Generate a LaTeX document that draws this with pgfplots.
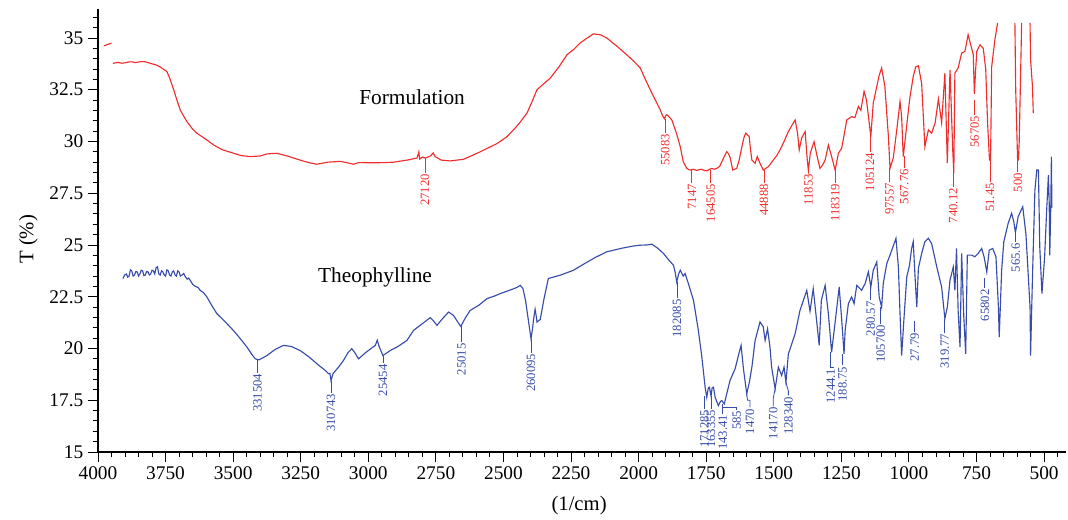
\documentclass[border=0pt]{standalone}
\usepackage{pgfplots}
\pgfplotsset{compat=1.18}
\usepackage{fontspec}
\setmainfont{Liberation Serif}
\definecolor{specred}{RGB}{240,45,45}
\definecolor{specblue}{RGB}{55,75,168}
\newcommand{\pk}[5]{\draw[#1, line width=0.6pt] (axis cs:#2,#3) -- (axis cs:#2,#4) node[anchor=east, rotate=90, inner sep=0.6pt, font=\fontsize{9.5}{10}\selectfont, text=#1] {#5};}
\begin{document}
\begin{tikzpicture}
\path[use as bounding box] (-73.5pt,-50.25pt) rectangle (727.5pt,339pt);
\begin{axis}[
 at={(0,0)}, anchor=south west,
 scale only axis, width=726pt, height=332.25pt,
 x dir=reverse, xmin=419, xmax=4000, ymin=15, ymax=36.4,
 axis x line*=bottom, axis y line*=left,
 axis line style={line width=0.8pt},
 xtick={500,750,1000,1250,1500,1750,2000,2250,2500,2750,3000,3250,3500,3750,4000},
 minor xtick={450,500,...,4000},
 ytick={15,17.5,20,22.5,25,27.5,30,32.5,35},
 minor ytick={15,15.5,...,36},
 tick align=outside, major tick length=7.5pt, minor tick length=4pt,
 tick style={black, line width=0.7pt},
 scaled ticks=false,
 /pgf/number format/1000 sep={},
 /pgf/number format/assume math mode=true,
 ticklabel style={font=\fontsize{14.5}{16}\selectfont},
 xlabel={(1/cm)}, ylabel={T (\%)},
 every axis x label/.style={at={(axis description cs:0.497,-0.12)}, anchor=center, font=\fontsize{15.5}{17}\selectfont},
 every axis y label/.style={at={(axis description cs:-0.072,0.48)}, rotate=90, anchor=center, font=\fontsize{15.5}{17}\selectfont},
 clip=false,
]
% Formulation (red)
\addplot[specred, line width=0.85pt] coordinates {(3977,34.62) (3962,34.7) (3950,34.75)};
\addplot[specred, line width=0.85pt] coordinates {
(3945,33.77) (3935,33.8) (3925,33.82) (3912,33.78) (3900,33.8) (3887,33.84) (3875,33.85) (3862,33.81) (3850,33.84) (3837,33.86) (3825,33.85) (3812,33.8) (3800,33.75) (3785,33.7) (3770,33.6) (3745,33.38) (3733,33.0) (3720,32.5) (3708,32.0) (3695,31.5) (3671,30.96) (3650,30.6) (3634,30.4) (3600,30.1) (3572,29.83) (3540,29.6) (3498,29.43) (3470,29.32) (3437,29.27) (3400,29.3) (3375,29.4) (3338,29.43) (3300,29.3) (3252,29.1) (3220,28.98) (3190,28.9) (3150,29.0) (3104,29.04) (3080,28.98) (3055,28.9) (3036,28.98) (2981,28.97) (2940,28.98) (2907,29.0) (2857,29.1) (2820,29.2) (2813,29.5) (2810,29.15) (2800,29.25) (2789,29.2) (2770,29.3) (2760,29.45) (2753,29.27) (2730,29.1) (2697,29.06) (2648,29.14) (2620,29.3) (2586,29.5) (2555,29.7) (2524,29.9) (2490,30.2) (2463,30.56) (2440,30.9) (2413,31.37) (2395,31.9) (2376,32.5) (2350,32.8) (2327,33.06) (2295,33.6) (2265,34.19) (2240,34.45) (2216,34.76) (2190,35.0) (2167,35.2) (2140,35.15) (2118,35.0) (2080,34.6) (2044,34.19) (2020,33.9) (1994,33.55) (1975,33.0) (1957,32.5) (1938,32.0) (1920,31.53) (1910,31.2) (1904,31.1) (1900,31.25) (1895,31.3) (1877,31.04) (1860,30.4) (1846,29.75) (1835,29.03) (1822,28.7) (1810,28.62) (1797,28.66) (1785,28.6) (1775,28.64) (1767,28.66) (1757,28.6) (1748,28.58) (1740,28.64) (1730,28.7) (1720,28.66) (1711,28.7) (1700,28.8) (1692,29.03) (1682,29.3) (1674,29.51) (1667,29.4) (1661,29.2) (1652,28.62) (1637,28.7) (1628,29.1) (1618,29.75) (1610,30.2) (1604,30.4) (1596,30.3) (1591,30.24) (1586,29.6) (1581,29.1) (1569,28.95) (1561,29.27) (1551,28.95) (1539,28.62) (1530,28.7) (1520,28.78) (1502,29.1) (1490,29.3) (1477,29.59) (1462,30.0) (1446,30.48) (1432,30.8) (1421,31.04) (1412,30.4) (1406,29.59) (1397,30.16) (1384,30.48) (1376,29.1) (1372,28.6) (1365,29.43) (1351,29.99) (1340,29.3) (1329,28.7) (1320,28.85) (1310,29.1) (1298,29.83) (1286,29.27) (1273,28.62) (1261,29.43) (1249,29.67) (1240,30.3) (1230,31.04) (1212,31.2) (1200,31.15) (1187,31.69) (1178,31.5) (1166,32.42) (1157,32.0) (1141,30.24) (1132,31.85) (1119,32.66) (1110,33.2) (1101,33.55) (1089,32.66) (1076,30.24) (1070,28.7) (1058,29.2) (1045,30.56) (1033,31.93) (1027,31.2) (1021,29.27) (1008,30.8) (996,32.17) (984,33.14) (975,33.6) (965,33.66) (953,32.8) (941,29.75) (928,30.56) (916,30.4) (903,30.9) (891,32.05) (879,30.9) (867,33.3) (858,28.95) (848,33.46) (838,29.6) (834,28.46) (830,33.3) (818,33.55) (805,34.27) (793,34.35) (781,35.16) (773,34.75) (762,34.2) (758,32.3) (753,33.5) (749,34.35) (737,34.67) (725,34.5) (716,33.5) (709,30.88) (702,29.1) (698,29.1) (694,33.6) (682,34.92) (672,35.73)};
\addplot[specred, line width=0.85pt] coordinates {(608,35.73) (605,32.5) (598,29.1) (595,29.1) (592,30.0) (583,35.73)};
\addplot[specred, line width=0.85pt] coordinates {(552,35.73) (550,33.95) (543,32.66) (540,31.37)};
% Theophylline (blue)
\addplot[specblue, line width=0.85pt] coordinates {
(3908,23.38) (3901,23.55) (3895,23.6) (3890,23.45) (3885,23.5) (3880,23.8) (3875,23.75) (3870,23.5) (3865,23.55) (3860,23.72) (3855,23.7) (3850,23.5) (3845,23.6) (3840,23.78) (3835,23.75) (3830,23.52) (3825,23.55) (3820,23.72) (3815,23.7) (3810,23.55) (3805,23.6) (3800,23.78) (3795,23.75) (3790,23.6) (3785,23.9) (3780,23.95) (3775,23.6) (3770,23.55) (3765,23.75) (3760,23.7) (3755,23.55) (3750,23.5) (3745,23.8) (3740,23.75) (3735,23.55) (3730,23.5) (3725,23.7) (3720,23.75) (3715,23.55) (3710,23.5) (3705,23.75) (3700,23.7) (3695,23.5) (3689,23.55) (3683,23.62) (3676,23.45) (3670,23.35) (3665,23.4) (3659,23.3) (3650,23.1) (3640,23.0) (3630,22.95) (3622,22.81) (3610,22.7) (3597,22.49) (3580,22.1) (3560,21.68) (3530,21.3) (3499,20.87) (3475,20.5) (3449,20.07) (3430,19.7) (3418,19.5) (3405,19.45) (3390,19.55) (3375,19.66) (3345,19.95) (3314,20.15) (3285,20.1) (3252,19.9) (3220,19.6) (3190,19.26) (3160,18.95) (3147,18.78) (3142,18.8) (3138,18.45) (3130,18.8) (3110,19.1) (3092,19.42) (3075,19.8) (3061,19.99) (3050,19.8) (3036,19.5) (3010,19.8) (2990,20.0) (2974,20.15) (2967,20.4) (2960,20.1) (2946,19.66) (2930,19.8) (2919,19.9) (2890,20.1) (2857,20.39) (2833,20.87) (2800,21.2) (2771,21.49) (2760,21.35) (2746,21.12) (2725,21.45) (2703,21.76) (2685,21.6) (2670,21.3) (2658,21.07) (2640,21.5) (2623,21.84) (2590,22.1) (2561,22.41) (2530,22.55) (2512,22.65) (2480,22.8) (2450,22.95) (2438,23.05) (2428,22.9) (2418,22.3) (2413,21.84) (2405,21.1) (2398,20.47) (2392,21.0) (2389,21.36) (2383,21.9) (2378,21.5) (2376,21.28) (2364,21.4) (2350,22.4) (2334,23.38) (2290,23.54) (2241,23.78) (2200,24.1) (2160,24.4) (2118,24.67) (2060,24.85) (2020,24.95) (1994,24.99) (1970,25.0) (1951,25.04) (1930,24.85) (1908,24.59) (1890,24.3) (1871,24.02) (1865,23.7) (1859,23.21) (1852,23.6) (1846,23.78) (1835,23.5) (1828,23.62) (1816,23.14) (1797,22.33) (1779,20.87) (1766,19.58) (1754,18.13) (1748,17.64) (1742,18.1) (1738,18.13) (1732,17.7) (1728,18.1) (1723,18.13) (1717,17.64) (1705,17.24) (1697,17.45) (1692,17.48) (1683,17.32) (1674,17.81) (1662,18.45) (1643,19.02) (1632,19.6) (1621,20.15) (1612,19.0) (1600,17.81) (1590,18.4) (1581,19.1) (1569,20.39) (1551,21.28) (1539,21.05) (1532,20.39) (1523,20.95) (1514,20.07) (1508,19.1) (1495,18.05) (1483,19.1) (1471,18.7) (1462,19.1) (1455,18.37) (1446,19.74) (1421,20.71) (1403,21.84) (1378,22.81) (1366,21.8) (1354,22.89) (1341,21.28) (1332,20.15) (1324,22.33) (1310,23.05) (1298,21.68) (1286,19.82) (1273,21.28) (1258,22.97) (1249,21.44) (1240,19.74) (1236,20.87) (1224,22.17) (1212,22.49) (1203,22.17) (1193,23.05) (1175,22.81) (1162,23.14) (1150,23.7) (1141,22.97) (1132,23.78) (1119,24.18) (1110,22.49) (1101,22.0) (1095,23.14) (1082,24.1) (1070,24.51) (1048,25.32) (1039,23.94) (1033,21.68) (1027,19.66) (1018,21.52) (1008,23.46) (998,24.02) (990,24.83) (984,25.16) (978,23.62) (971,22.0) (965,23.87) (953,24.59) (941,25.16) (928,25.32) (916,25.07) (897,23.94) (879,22.97) (867,21.44) (858,22.0) (848,23.3) (836,23.94) (830,22.81) (824,24.83) (818,21.84) (811,20.07) (805,24.59) (797,21.52) (790,19.74) (784,24.51) (768,24.51) (756,24.43) (744,24.59) (731,24.83) (722,24.43) (712,23.7) (703,24.75) (690,24.83) (678,24.43) (669,22.0) (666,20.55) (657,23.78) (649,25.16) (633,26.04) (620,26.53) (612,26.12) (606,25.6) (596,26.37) (579,26.85) (567,25.5) (552,22.0) (550,19.66) (543,23.46) (534,27.65) (527,28.62) (521,28.62) (516,24.91) (508,22.65) (498,24.43) (491,26.53) (484,28.38) (481,27.0) (479,24.5) (475,27.0) (473,29.27) (471,26.8)};
% text labels
\node[font=\fontsize{16}{18}\selectfont] at (axis cs:2838,32.16) {Formulation};
\node[font=\fontsize{16}{18}\selectfont] at (axis cs:2975,23.44) {Theophylline};
% red peak labels
\pk{specred}{2790}{29.2}{28.48}{27120}
\pk{specred}{1902}{31.1}{30.41}{55083}
\pk{specred}{1803}{28.62}{27.99}{7147}
\pk{specred}{1733}{28.62}{27.99}{164505}
\pk{specred}{1536}{28.62}{28.0}{44888}
\pk{specred}{1372}{28.95}{28.48}{11853}
\pk{specred}{1273}{28.62}{27.99}{118319}
\pk{specred}{1144}{30.3}{29.5}{105124}
\pk{specred}{1072}{28.7}{28.04}{97557}
\pk{specred}{1017}{29.3}{28.72}{567.76}
\pk{specred}{836}{28.46}{27.8}{740.12}
\pk{specred}{757}{32.0}{31.29}{56705}
\pk{specred}{700}{29.1}{28.04}{51.45}
\pk{specred}{597}{29.1}{28.53}{500}
% blue peak labels
\pk{specblue}{3410}{19.45}{18.84}{331504}
\pk{specblue}{3138}{18.45}{17.87}{310743}
\pk{specblue}{2946}{19.66}{19.28}{25454}
\pk{specblue}{2655}{21.07}{20.3}{25015}
\pk{specblue}{2398}{20.47}{19.8}{260095}
\pk{specblue}{1858}{23.21}{22.43}{182085}
\pk{specblue}{1756}{17.7}{17.1}{171285}
\pk{specblue}{1732}{17.7}{17.1}{163355}
\pk{specblue}{1689}{17.3}{16.85}{143.41}
\draw[specblue, line width=0.6pt] (axis cs:1687,17.16) -- (axis cs:1637,17.16) -- (axis cs:1637,17.05) node[anchor=east, rotate=90, inner sep=0.6pt, font=\fontsize{9.5}{10}\selectfont, text=specblue] {585};
\draw[specblue, line width=0.6pt] (axis cs:1600,17.81) -- (axis cs:1597,17.5) -- (axis cs:1588,17.5) -- (axis cs:1588,17.15) node[anchor=east, rotate=90, inner sep=0.6pt, font=\fontsize{9.5}{10}\selectfont, text=specblue] {1470};
\draw[specblue, line width=0.6pt] (axis cs:1495,18.05) -- (axis cs:1502,17.6) -- (axis cs:1502,17.2) node[anchor=east, rotate=90, inner sep=0.6pt, font=\fontsize{9.5}{10}\selectfont, text=specblue] {14170};
\draw[specblue, line width=0.6pt] (axis cs:1455,18.37) -- (axis cs:1446,17.95) -- (axis cs:1446,17.73) node[anchor=east, rotate=90, inner sep=0.6pt, font=\fontsize{9.5}{10}\selectfont, text=specblue] {128340};
\draw[specblue, line width=0.6pt] (axis cs:1289,19.82) -- (axis cs:1289,19.1) -- (axis cs:1277,19.1);
\pk{specblue}{1289}{19.1}{19.08}{1244.1}
\pk{specblue}{1246}{19.74}{19.18}{188.75}
\pk{specblue}{1141}{22.97}{22.33}{280.57}
\pk{specblue}{1104}{22.0}{21.2}{105700}
\pk{specblue}{978}{21.35}{20.8}{27.79}
\pk{specblue}{867}{21.44}{20.77}{319.77}
\pk{specblue}{719}{23.4}{22.9}{65802}
\pk{specblue}{605}{25.6}{25.13}{565.6}
\end{axis}
\end{tikzpicture}
\end{document}
